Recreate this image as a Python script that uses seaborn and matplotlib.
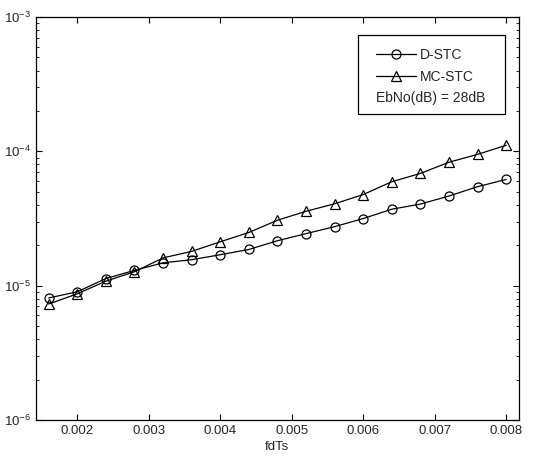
import numpy as np
import pandas as pd
import matplotlib
matplotlib.use('Agg')
import matplotlib.pyplot as plt
from matplotlib.patches import Rectangle
from matplotlib.ticker import MultipleLocator, FormatStrFormatter
import seaborn as sns

fdTs = [0.0016, 0.0020, 0.0024, 0.0028, 0.0032, 0.0036, 0.0040, 0.0044, 0.0048,
        0.0052, 0.0056, 0.0060, 0.0064, 0.0068, 0.0072, 0.0076, 0.0080]
dstc = [8.1e-6, 9.0e-6, 1.13e-5, 1.30e-5, 1.48e-5, 1.56e-5, 1.70e-5, 1.86e-5, 2.16e-5,
        2.44e-5, 2.75e-5, 3.16e-5, 3.71e-5, 4.05e-5, 4.65e-5, 5.46e-5, 6.18e-5]
mcstc = [7.3e-6, 8.7e-6, 1.08e-5, 1.27e-5, 1.61e-5, 1.80e-5, 2.12e-5, 2.49e-5, 3.07e-5,
         3.58e-5, 4.07e-5, 4.77e-5, 5.94e-5, 6.85e-5, 8.3e-5, 9.5e-5, 1.11e-4]
names = ['D-STC', 'MC-STC']
note = 'EbNo(dB) = 28dB'

df = pd.DataFrame({
    'fdTs': fdTs * 2,
    'ber': dstc + mcstc,
    'scheme': [names[0]] * len(fdTs) + [names[1]] * len(fdTs),
})

sns.set_style('ticks')
plt.rcParams['font.family'] = ['Liberation Sans', 'DejaVu Sans']
plt.rcParams['mathtext.fontset'] = 'custom'
plt.rcParams['mathtext.rm'] = 'Liberation Sans'

fig = plt.figure(figsize=(5.51, 4.61), dpi=100)
ax = fig.add_axes([0.065, 0.089, 0.877, 0.874])

sns.lineplot(data=df, x='fdTs', y='ber', style='scheme',
             markers={'D-STC': 'o', 'MC-STC': '^'}, dashes=False,
             color='black', linewidth=0.9, markersize=6.5,
             markerfacecolor='none', markeredgecolor='black',
             markeredgewidth=0.9, ax=ax, legend=False)

ax.set_yscale('log')
ax.set_ylim(1e-6, 1e-3)
ax.set_xlim(0.00142, 0.00818)
ax.xaxis.set_major_locator(MultipleLocator(0.001))
ax.xaxis.set_major_formatter(FormatStrFormatter('%.3f'))
ax.set_xlabel('fdTs', fontsize=9.5, labelpad=3)
ax.set_ylabel('')

ax.tick_params(which='both', direction='in', top=True, right=True,
               labelsize=9.5, color='black')
ax.tick_params(which='major', length=4)
ax.tick_params(which='minor', length=2)
for s in ax.spines.values():
    s.set_color('black')
    s.set_linewidth(0.9)

handles = ax.get_lines()[:2]
leg = ax.legend(handles, names, loc='center', bbox_to_anchor=(0.805, 0.878),
                frameon=False, fontsize=10, handlelength=2.9,
                handletextpad=0.3, labelspacing=0.56)
ax.text(0.818, 0.800, note, transform=ax.transAxes, ha='center', va='center',
        fontsize=10)
ax.add_patch(Rectangle((0.666, 0.759), 0.305, 0.196, transform=ax.transAxes,
                       fill=False, edgecolor='black', linewidth=0.9, zorder=5))

fig.savefig('out.png', dpi=100)
